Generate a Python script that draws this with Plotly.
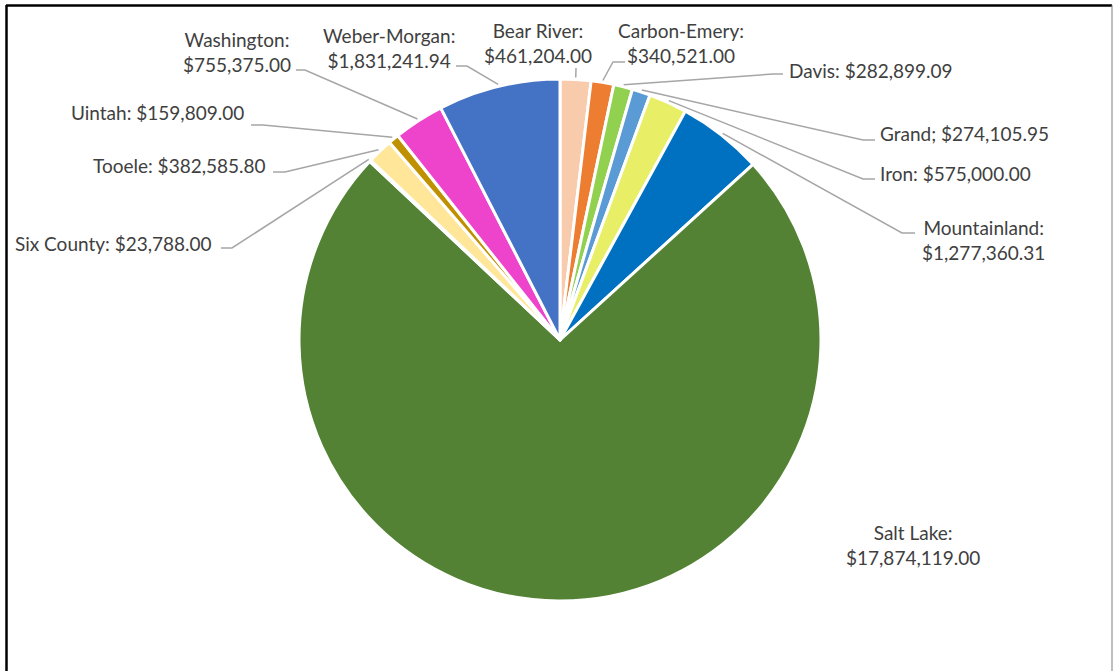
import math
import plotly.graph_objects as go

# ---- data ----
regions = ["Bear River", "Carbon-Emery", "Davis", "Grand", "Iron", "Mountainland",
           "Salt Lake", "Six County", "Tooele", "Uintah", "Washington", "Weber-Morgan"]
amounts = [461204.00, 340521.00, 282899.09, 274105.95, 575000.00, 1277360.31,
           17874119.00, 23788.00, 382585.80, 159809.00, 755375.00, 1831241.94]
label_texts = ["Bear River:<br>$461,204.00", "Carbon-Emery:<br>$340,521.00",
               "Davis: $282,899.09", "Grand; $274,105.95", "Iron: $575,000.00",
               "Mountainland:<br>$1,277,360.31", "Salt Lake:<br>$17,874,119.00",
               "Six County: $23,788.00", "Tooele: $382,585.80", "Uintah: $159,809.00",
               "Washington:<br>$755,375.00", "Weber-Morgan:<br>$1,831,241.94"]
colors = ["#F8CBAD", "#ED7D31", "#92D050", "#5B9BD5", "#E8EE66", "#0070C0",
          "#548235", "#C00000", "#FFE699", "#BF9000", "#EE44CC", "#4472C4"]

W, H = 1114, 671
CX, CY, R = 560, 340, 261

# label layout (pixel): text anchor x, y(center of block), xanchor, elbow point, line end near label
label_layout = {
    "Bear River":   dict(x=538, y=43, xa="center", elbow=None, end=(576, 68)),
    "Carbon-Emery": dict(x=681, y=43, xa="center", elbow=(613, 62), end=(625, 62)),
    "Davis":        dict(x=787, y=70, xa="left", elbow=(773, 74), end=(783, 74)),
    "Grand":        dict(x=878, y=134, xa="left", elbow=(863, 140), end=(875, 140)),
    "Iron":         dict(x=878, y=173, xa="left", elbow=(863, 179), end=(875, 179)),
    "Mountainland": dict(x=983, y=240, xa="center", elbow=(902, 233), end=(915, 233)),
    "Salt Lake":    dict(x=913, y=545, xa="center", elbow=None, end=None),
    "Six County":   dict(x=214, y=243, xa="right", elbow=(232, 248), end=(221, 248)),
    "Tooele":       dict(x=268, y=165, xa="right", elbow=(285, 172), end=(273, 172)),
    "Uintah":       dict(x=246, y=113, xa="right", elbow=(263, 125), end=(251, 125)),
    "Washington":   dict(x=237, y=52, xa="center", elbow=(305, 70), end=(296, 70)),
    "Weber-Morgan": dict(x=389, y=48, xa="center", elbow=(467, 66), end=(456, 66)),
}

def px(x):
    return x / W

def py(y):
    return 1 - y / H

fig = go.Figure(go.Pie(
    labels=regions, values=amounts, sort=False, direction="clockwise", rotation=0,
    marker=dict(colors=colors, line=dict(color="white", width=3)),
    textinfo="none", hoverinfo="label+value", showlegend=False,
    domain=dict(x=[px(CX - R), px(CX + R)], y=[py(CY + R), py(CY - R)]),
))

total = sum(amounts)
cum = 0.0
shapes = []
annotations = []
for name, val, txt in zip(regions, amounts, label_texts):
    mid = (cum + val / 2) / total * 2 * math.pi
    cum += val
    lay = label_layout[name]
    ex = CX + (R + 2) * math.sin(mid)
    ey = CY - (R + 2) * math.cos(mid)
    if lay["end"] is not None:
        pts = [(ex, ey)]
        if lay["elbow"] is not None:
            pts.append(lay["elbow"])
        pts.append(lay["end"])
        path = "M " + " L ".join(f"{px(a):.5f},{py(b):.5f}" for a, b in pts)
        shapes.append(dict(type="path", path=path, xref="paper", yref="paper",
                           line=dict(color="#A6A6A6", width=1.5)))
    annotations.append(dict(x=px(lay["x"]), y=py(lay["y"]), xref="paper", yref="paper",
                            text=txt, showarrow=False, xanchor=lay["xa"], yanchor="middle",
                            align="center", font=dict(family="Lato", size=19, color="#404040")))

# chart frame
shapes += [
    dict(type="line", xref="paper", yref="paper", x0=px(6), x1=px(1112), y0=py(5.5), y1=py(5.5),
         line=dict(color="black", width=2.5)),
    dict(type="line", xref="paper", yref="paper", x0=px(6.5), x1=px(6.5), y0=py(5), y1=0,
         line=dict(color="black", width=2.5)),
    dict(type="line", xref="paper", yref="paper", x0=px(1112), x1=px(1112), y0=py(5), y1=0,
         line=dict(color="#7F7F7F", width=1)),
]

fig.update_layout(
    width=W, height=H, margin=dict(l=0, r=0, t=0, b=0),
    paper_bgcolor="white", plot_bgcolor="white",
    shapes=shapes, annotations=annotations,
)
fig.write_html("out.html", config={"displayModeBar": False},
               post_script="document.body.style.margin='0px';document.body.style.overflow='hidden';")
